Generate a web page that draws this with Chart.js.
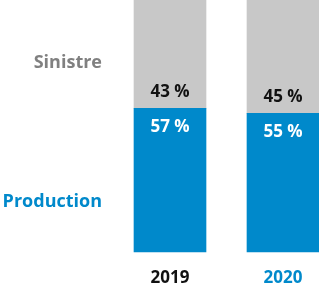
<!DOCTYPE html>
<html>
<head>
<meta charset="utf-8">
<script src="https://cdn.jsdelivr.net/npm/chart.js@4.4.0/dist/chart.umd.min.js"></script>
<style>
  html, body { margin: 0; padding: 0; background: #fff; }
  #wrap { width: 319px; height: 286px; }
</style>
</head>
<body>
<div id="wrap"><canvas id="myChart"></canvas></div>
<script>
const years = ['2019', '2020'];
const production = [57, 55];
const sinistre = [43, 45];
const sideLabels = ['Production', 'Sinistre'];
const sideTicks = [20, 75];

const BLUE = '#0089cb';
const GREY = '#c8c8c8';
const FONT = "'Open Sans', sans-serif";

// etiquetas de valor dentro de las barras
const valueLabels = {
  id: 'valueLabels',
  afterDatasetsDraw(chart) {
    const ctx = chart.ctx;
    ctx.save();
    ctx.font = 'bold 17px ' + FONT;
    ctx.textAlign = 'center';
    ctx.textBaseline = 'middle';
    chart.data.datasets.forEach((ds, i) => {
      const meta = chart.getDatasetMeta(i);
      meta.data.forEach((bar, j) => {
        const txt = ds.data[j] + ' %';
        if (i === 0) {
          ctx.fillStyle = '#fff';
          ctx.fillText(txt, bar.x, bar.y + 19);
        } else {
          ctx.fillStyle = '#111';
          ctx.fillText(txt, bar.x, bar.base - 16);
        }
      });
    });
    ctx.restore();
  }
};

new Chart(document.getElementById('myChart').getContext('2d'), {
  type: 'bar',
  data: {
    labels: years,
    datasets: [
      { label: 'Production', data: production, backgroundColor: BLUE, barThickness: 72, clip: false },
      { label: 'Sinistre', data: sinistre, backgroundColor: GREY, barThickness: 72, clip: false }
    ]
  },
  options: {
    responsive: true,
    maintainAspectRatio: false,
    animation: false,
    layout: { padding: { left: 0, right: 36, top: 0, bottom: 0 } },
    plugins: {
      legend: { display: false },
      tooltip: { enabled: false }
    },
    scales: {
      x: {
        stacked: true,
        offset: false,
        grid: { display: false, drawTicks: false },
        border: { display: false },
        ticks: {
          padding: 16,
          font: { family: FONT, size: 17, weight: 'bold' },
          color: (c) => c.index === 1 ? BLUE : '#111'
        },
        afterFit: (scale) => { scale.height = 34; }
      },
      y: {
        stacked: true,
        min: 0,
        max: 100,
        grid: { display: false, drawTicks: false },
        border: { display: false },
        afterBuildTicks: (axis) => { axis.ticks = sideTicks.map(v => ({ value: v })); },
        ticks: {
          padding: 68,
          font: { family: FONT, size: 18, weight: 'bold' },
          color: (c) => c.index === 0 ? BLUE : '#808080',
          callback: (value, index) => sideLabels[index]
        },
        afterFit: (scale) => {
          scale.width = 170;
          scale.paddingTop = 0;
          scale.paddingBottom = 0;
        }
      }
    }
  },
  plugins: [valueLabels]
});
</script>
</body>
</html>
